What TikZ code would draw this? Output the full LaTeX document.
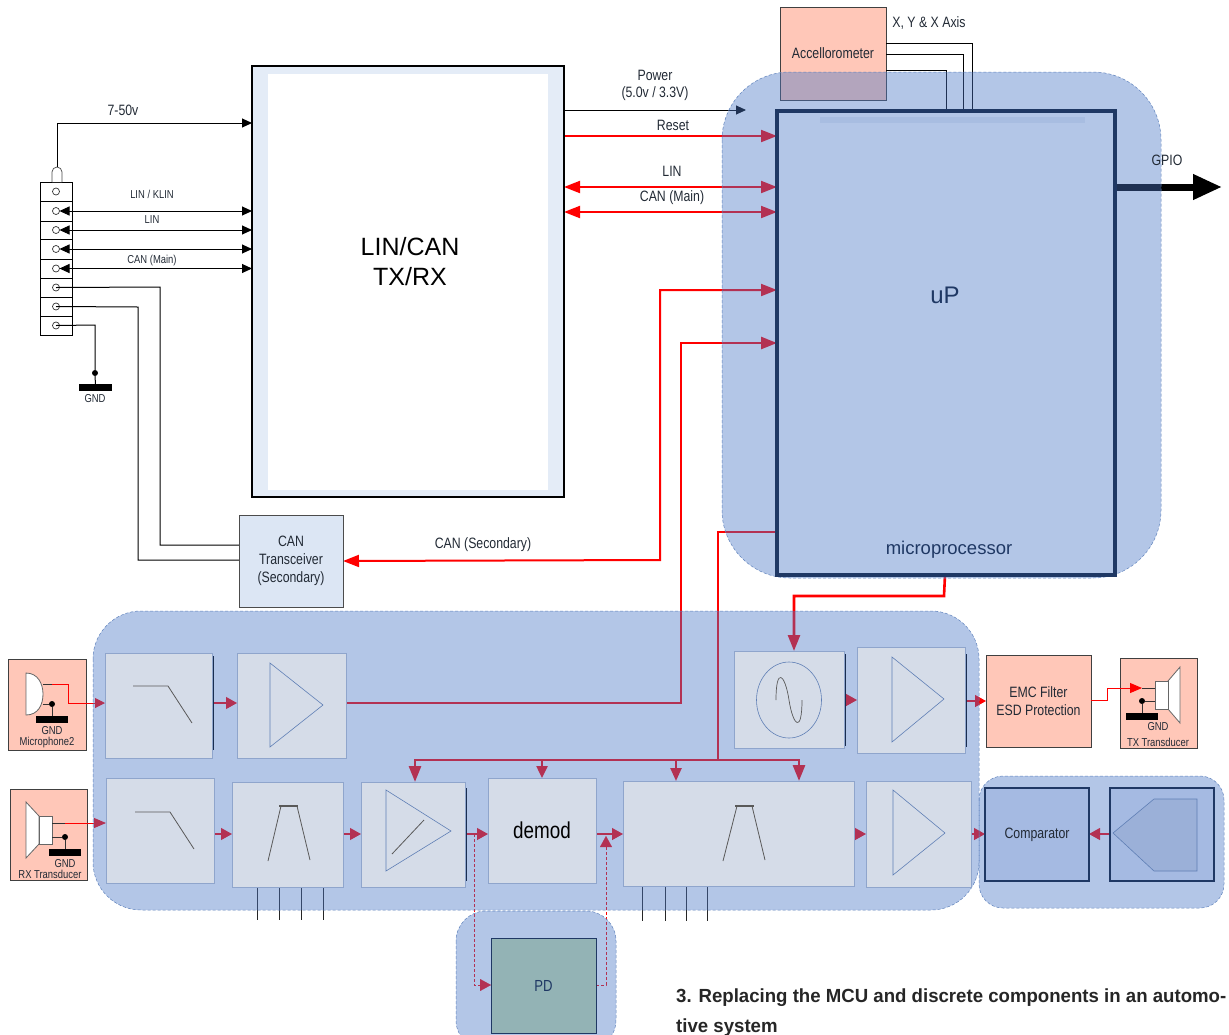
\documentclass[tikz,border=0pt]{standalone}
\usepackage{fontspec}
\setmainfont{Liberation Sans}
\newfontfamily\nar[FakeStretch=0.82]{Liberation Sans}
\newfontfamily\hd[FakeStretch=0.98]{Liberation Sans}
\usetikzlibrary{arrows.meta}
\pgfdeclarelayer{wires}
\pgfdeclarelayer{blobs}
\pgfsetlayers{wires,blobs,main}
\definecolor{navy}{HTML}{1F3864}
\definecolor{salmon}{HTML}{FFC7B8}
\definecolor{greybox}{HTML}{D5DCE8}
\definecolor{greyedge}{HTML}{8FA5CC}
\definecolor{blobfill}{HTML}{4A77C6}
\definecolor{blobedge}{HTML}{5F82BC}
\definecolor{symb}{HTML}{5F7FB5}
\definecolor{txt}{HTML}{222A35}
\newcommand\bxn[7]{\node[#1,minimum width={(#5-#3)*1pt},minimum height={(#6-#4)*1pt}] (#2) at ({(#3+#5)/2},{(#4+#6)/2}) {#7};}
\newcommand\fs[1]{\fontsize{#1}{#1}\selectfont}
\tikzset{
 anybox/.style={inner sep=0pt,outer sep=0pt,align=center,text=txt},
 greyb/.style={anybox,fill=greybox,draw=greyedge,line width=.7pt},
 salm/.style={anybox,fill=salmon,draw=black!75,line width=1pt},
 blueb/.style={anybox,fill=compfill,draw=navy,line width=1.2pt},
 lab/.style={inner sep=0pt,outer sep=0pt,align=center,text=txt,font=\nar},
 blob/.style={fill=blobfill,fill opacity=.42,draw=blobedge,line width=.5pt,densely dashed},
 blk/.style={draw=black,line width=1pt},
 blka/.style={blk,-{Triangle[length=10pt,width=9pt]}},
 blkb/.style={blk,{Triangle[length=10pt,width=9pt]}-{Triangle[length=10pt,width=9pt]}},
 redw/.style={draw=red,line width=2pt,-{Triangle[length=16pt,width=12pt]}},
 redb/.style={draw=red,line width=2pt,{Triangle[length=16pt,width=12pt]}-{Triangle[length=16pt,width=12pt]}},
 reds/.style={draw=red,line width=1.2pt,-{Triangle[length=11pt,width=12pt]}},
 redplain/.style={draw=red,line width=2pt},
 redd/.style={draw=red,line width=.8pt,densely dashed,-{Triangle[length=11pt,width=12pt,line width=.1pt]}},
 symline/.style={draw=symb,line width=.6pt},
 filt/.style={draw=black!65,line width=.8pt},
 edge/.style={draw=navy!80!black,line width=1pt},
 pin/.style={draw=black!85,line width=.9pt},
 circ/.style={circle,draw=black!80,line width=.7pt,minimum size=7pt,inner sep=0pt,outer sep=0pt},
 rowb/.style={draw=black,line width=.9pt,fill=white},
 dotn/.style={circle,fill=black,minimum size=6pt,inner sep=0pt,outer sep=0pt},
 gbar/.style={fill=black,draw=none,inner sep=0pt,outer sep=0pt},
 spk/.style={fill=white,draw=black!60,line width=.8pt},
}
\definecolor{compfill}{HTML}{A5BAE2}
\definecolor{pentfill}{HTML}{9BB0D8}
\definecolor{pdfill}{HTML}{93B3B5}
\definecolor{lcfill}{HTML}{E4ECF7}
\definecolor{canfill}{HTML}{DCE6F4}
\begin{document}
\begin{tikzpicture}[x=1pt,y=-1pt]
\useasboundingbox (0,0) rectangle (1229,1034);

% ---------- blocks on the top layer
\bxn{anybox,fill=lcfill,draw=black,line width=2.2pt}{lincan}{252}{66}{564}{497}{}
\fill[white] (268,74) rectangle (548,490);
\node[lab,font=\rmfamily\fs{25},text=black] (lincanlab) at (410,262) {LIN/CAN\\[5pt]TX/RX};
\bxn{anybox,fill=canfill,draw=black!70,line width=1pt,font=\nar\fs{15}}{canx}{239}{515}{343}{607}{CAN\\[3pt]Transceiver\\[3pt](Secondary)}
\bxn{anybox,draw=navy,line width=3.6pt}{up}{777}{111}{1115}{575}{}
\fill[blobedge,opacity=.13] (820,117) rectangle (1085,123);
\node[lab,font=\rmfamily\fs{24},text=navy] (uplab) at (945,295) {uP};
\node[lab,font=\rmfamily\fs{18.5},text=navy] (mplab) at (949,550) {microprocessor};

\bxn{greyb}{lp1}{105}{653}{212}{758}{}
\bxn{greyb}{amp1}{237}{653}{346}{758}{}
\bxn{greyb}{lp2}{106}{778}{214}{883}{}
\bxn{greyb}{bp1}{232}{782}{343}{887}{}
\bxn{greyb}{amp2}{361}{782}{465}{887}{}
\bxn{greyb,font=\nar\fs{23},text=black}{demod}{488}{778}{596}{883}{\raisebox{-2pt}{demod}}
\bxn{greyb}{bp2}{623}{781}{854}{886}{}
\bxn{greyb}{amp3}{866}{781}{971}{887}{}
\bxn{greyb}{osc}{734}{651}{844}{748}{}
\bxn{greyb}{amp4}{857}{647}{965}{753}{}
\bxn{blueb,font=\nar\fs{15}}{comp}{985}{788}{1089}{881}{Comparator}
\bxn{blueb}{sens}{1110}{788}{1214}{881}{}
\bxn{anybox,fill=pdfill,draw=navy,line width=1pt,font=\nar\fs{16},text=navy}{pd}{491}{938}{596}{1033}{PD}

% right dark edges of boxes
\draw[edge] (213,656) -- (213,750);
\draw[edge] (466,788) -- (466,881);
\draw[edge] (845,654) -- (845,746);
\draw[edge] (966,654) -- (966,747);
% filter and amplifier symbols
\draw[filt] (133,686) -- (168,686) -- (192,723);
\draw[filt] (135,812) -- (170,812) -- (194,849);
\draw[symline] (270,663) -- (323,705) -- (270,747) -- cycle;
\draw[filt,line width=2pt] (279,806) -- (298,806);
\draw[filt] (268,861) -- (281,806);
\draw[filt] (310,860) -- (297,806);
\draw[symline] (386,790) -- (451,831) -- (386,871) -- cycle;
\draw[filt] (392,854) -- (424,820);
\draw[filt,line width=2pt] (735,806) -- (754,806);
\draw[filt] (723,861) -- (737,806);
\draw[filt] (765,860) -- (752,806);
\draw[symline] (893,790) -- (945,833) -- (893,875) -- cycle;
\draw[symline] (892,657) -- (944,699) -- (892,742) -- cycle;
\draw[symline] (789,700) ellipse [x radius=32.5,y radius=38];
\draw[filt,line width=.7pt] (776,700) .. controls (776,666) and (785,674) .. (789,700) .. controls (793,726) and (802,734) .. (802,700);
\draw[symline,fill=pentfill] (1113,833) -- (1154,799) -- (1197,799) -- (1197,871) -- (1154,871) -- cycle;

% labels
\node[lab,font=\nar\fs{15}] (l750) at (123,110) {7-50v};
\node[lab,font=\nar\fs{11.5}] (lk) at (152,194) {LIN / KLIN};
\node[lab,font=\nar\fs{11.5}] (ll) at (152,220) {LIN};
\node[lab,font=\nar\fs{11.5}] (lc) at (152,261) {CAN (Main)};
\node[lab,font=\nar\fs{11.5}] (lg) at (95,399) {GND};
\node[lab,font=\nar\fs{15}] (lpow) at (655,85) {Power\\[2pt](5.0v / 3.3V)};
\node[lab,font=\nar\fs{15}] (lres) at (673,125) {Reset};
\node[lab,font=\nar\fs{15}] (llin) at (672,171) {LIN};
\node[lab,font=\nar\fs{15}] (lcm) at (672,198) {CAN (Main)};
\node[lab,font=\nar\fs{15}] (lcs) at (483,545) {CAN (Secondary)};
\node[lab,font=\nar\fs{15}] (lgp) at (1167,160) {GPIO};
\node[lab,font=\nar\fs{15}] (lxyz) at (929,23) {X, Y \& X Axis};
\node[anchor=base west,inner sep=0pt,font=\hd\bfseries\fs{19},text=black!85] (cap1) at (676,1002) {3. Replacing the MCU and discrete components in an automo-};
\node[anchor=base west,inner sep=0pt,font=\hd\bfseries\fs{19},text=black!85] (cap2) at (676,1032) {tive system};
\node[lab,font=\nar\fs{11.5}] (mg) at (52,731) {GND};
\node[lab,font=\nar\fs{11.5}] (mm) at (47,743) {Microphone2};
\node[lab,font=\nar\fs{11.5}] (rg) at (65,864) {GND};
\node[lab,font=\nar\fs{11.5}] (rr) at (50,874) {RX Transducer};
\node[lab,font=\nar\fs{11.5}] (tg) at (1158,727) {GND};
\node[lab,font=\nar\fs{11.5}] (tt) at (1158,742) {TX Transducer};

% ---------- translucent regions
\begin{pgfonlayer}{blobs}
\clip (0,0) rectangle (1229,1034);
\draw[blob,rounded corners=68pt] (722,72) rectangle (1161,578);
\draw[blob,rounded corners=48pt] (93,611) rectangle (979,910);
\draw[blob,rounded corners=24pt] (979,776) rectangle (1224,908);
\draw[blob,rounded corners=30pt] (456,911) rectangle (616,1050);
\end{pgfonlayer}

% ---------- under the regions: side blocks and all connectors
\begin{pgfonlayer}{wires}
\bxn{salm,font=\nar\fs{15}}{acc}{780}{7}{886}{100}{Accellorometer}
\bxn{salm}{mic}{8}{659}{86}{750}{}
\bxn{salm}{rx}{10}{789}{87}{880}{}
\bxn{salm,font=\nar\fs{15}}{emc}{986}{655}{1091}{747}{EMC Filter\\[3pt]ESD Protection}
\bxn{salm}{tx}{1120}{658}{1197}{748}{}

% connector block
\foreach \n/\a/\b in {r1/182/201,r2/201/221,r3/221/239,r4/239/259,r5/259/278,r6/278/297,r7/297/316,r8/316/335}
  \bxn{rowb}{\n}{40}{\a}{72}{\b}{};
\foreach \n/\m in {c1/r1,c2/r2,c3/r3,c4/r4,c5/r5,c6/r6,c7/r7,c8/r8}
  \node[circ] (\n) at (\m) {};
\coordinate (plug) at (57,167);
\draw[black!70,line width=.7pt,fill=white] (52,182) -- (52,172) arc[start angle=180,end angle=360,radius=5] -- (62,182);
\draw[blka] (plug) -- (57,123) -- (lincan.west |- 0,123);
\draw[blkb] (c2.east) -- (lincan.west |- c2);
\draw[blkb] (c3.east) -- (lincan.west |- c3);
\draw[blkb] (c4.east) -- (lincan.west |- c4);
\draw[blkb] (c5.east) -- (lincan.west |- c5);
\draw[blk] (c6.center) -- (160,287) -- (160,545) -- (canx.west |- 0,545);
\draw[blk] (c7.center) -- (138,307) -- (138,560) -- (canx.west |- 0,560);
\node[dotn] (gd) at (95,373) {};
\bxn{gbar}{gb}{79}{384}{112}{391}{}
\draw[blk] (c8.center) -- (95,325) -- (gd) -- (gb);

% accelerometer lines
\draw[blk] (acc.east |- 0,43) -- (972,43) -- (up.north -| 972,0);
\draw[blk] (acc.east |- 0,54) -- (963,54) -- (up.north -| 963,0);
\draw[blk] (acc.east |- 0,70) -- (946,70) -- (up.north -| 946,0);

% top connectors
\draw[blka,line width=.9pt] (lincan.east |- 0,110) -- (746,110);
\draw[redw] (lincan.east |- 0,136) -- (up.west |- 0,136);
\draw[redb] (lincan.east |- 0,187) -- (up.west |- 0,187);
\draw[redb] (lincan.east |- 0,212) -- (up.west |- 0,212);
\draw[redb] (canx.east) -- (660,560) -- (660,290) -- (up.west |- 0,290);
\draw[redw,line width=2.6pt] (amp1.east |- 0,703) -- (681,703) -- (681,343) -- (up.west |- 0,343);
\draw[draw=black,line width=7pt,-{Triangle[length=29pt,width=24pt]}] (up.east |- 0,187) ++(-2,0) -- (1222,187);

% control bus
\coordinate (busa) at (718,760);
\draw[redplain,line width=2.4pt] (up.west |- 0,532) -- (718,532) -- (busa);
\draw[redw,line width=2.8pt] (busa) -- (415,760) -- (amp2.north -| 415,0);
\draw[redw,line width=2.8pt] (busa) -- (799,760) -- (bp2.north -| 799,0);
\draw[reds,line width=2.4pt,-{Triangle[length=12pt,width=11pt]}] (demod.north |- 0,760) -- (demod.north);
\draw[reds,line width=2.4pt,-{Triangle[length=13pt,width=11pt]}] (bp2.north -| 676,0) ++(0,-21) -- (bp2.north -| 676,0);
\draw[redw,line width=2.6pt] (up.south |- 0,575) ++(-1,0) -- (944,596) -- (794,596) -- (osc.north -| 794,0);

% signal chain
\draw[reds] (lp1.east |- 0,703) -- (amp1.west |- 0,703);
\draw[reds] (osc.east |- 0,700) -- (amp4.west |- 0,700);
\draw[reds] (amp4.east |- 0,701) -- (emc.west |- 0,701);
\draw[reds] (lp2.east |- 0,834) -- (bp1.west |- 0,834);
\draw[reds] (bp1.east |- 0,834) -- (amp2.west |- 0,834);
\draw[reds] (amp2.east |- 0,834) -- (demod.west |- 0,834);
\draw[reds] (demod.east |- 0,834) -- (bp2.west |- 0,834);
\draw[reds] (bp2.east |- 0,834) -- (amp3.west |- 0,834);
\draw[reds] (amp3.east |- 0,834) -- (comp.west |- 0,834);
\draw[reds] (sens.west |- 0,834) -- (comp.east |- 0,834);
\coordinate (tapa) at (474,834);
\coordinate (tapb) at (606,836);
\draw[redd] (tapa) -- (474,985) -- (pd.west |- 0,985);
\draw[redd] (pd.east |- 0,985) -- (606,985) -- (tapb);

% pins
\foreach \x in {257,279,301,323} \draw[pin] (bp1.south -| \x,0) -- (\x,920);
\foreach \x in {642,665,686,707} \draw[pin] (bp2.south -| \x,0) -- (\x,921);

% microphone
\draw[spk] (26,673) .. controls (38,673) and (43,684) .. (43,694) .. controls (43,705) and (38,715) .. (26,715) -- cycle;
\coordinate (mica) at (43,684);
\coordinate (micb) at (68,684);
\draw[black!80,line width=.9pt] (mica) -- (52,684);
\draw[draw=red,line width=1pt,-{Triangle[length=10pt,width=10pt]}] (52,684) -- (68,684) -- (68,703) -- (lp1.west |- 0,703);
\node[dotn] (mdot) at (52,704) {};
\bxn{gbar}{mbar}{36}{716}{68}{723}{}
\draw[black!80,line width=.9pt] (43,704) -- (mdot) -- (mbar);

% rx transducer
\draw[spk] (26,802) -- (39,816) -- (39,844) -- (26,858) -- cycle;
\draw[spk] (39,816) rectangle (52,844);
\draw[black!80,line width=.9pt] (52,823) -- (65,823);
\draw[draw=red,line width=1pt,-{Triangle[length=12pt,width=10pt]}] (65,823) -- (lp2.west |- 0,823);
\node[dotn] (rdot) at (65,837) {};
\bxn{gbar}{rbar}{49}{849}{81}{856}{}
\draw[black!80,line width=.9pt] (52,837) -- (rdot) -- (rbar);

% tx transducer
\draw[spk] (1180,667) -- (1168,681) -- (1168,709) -- (1180,723) -- cycle;
\bxn{spk,inner sep=0pt,outer sep=0pt}{tcoil}{1155}{681}{1168}{709}{}
\draw[black!80,line width=.9pt] (1142,688) -- (tcoil.west |- 0,688);
\draw[draw=red,line width=1pt,-{Triangle[length=12pt,width=10pt]}] (emc.east |- 0,700) -- (1107,700) -- (1107,688) -- (1142,688);
\node[dotn] (tdot) at (1142,701) {};
\bxn{gbar}{tbar}{1126}{713}{1158}{720}{}
\draw[black!80,line width=.9pt] (tcoil.west |- 0,701) -- (tdot) -- (tbar.north -| 1142,0);
\end{pgfonlayer}
\end{tikzpicture}
\end{document}
